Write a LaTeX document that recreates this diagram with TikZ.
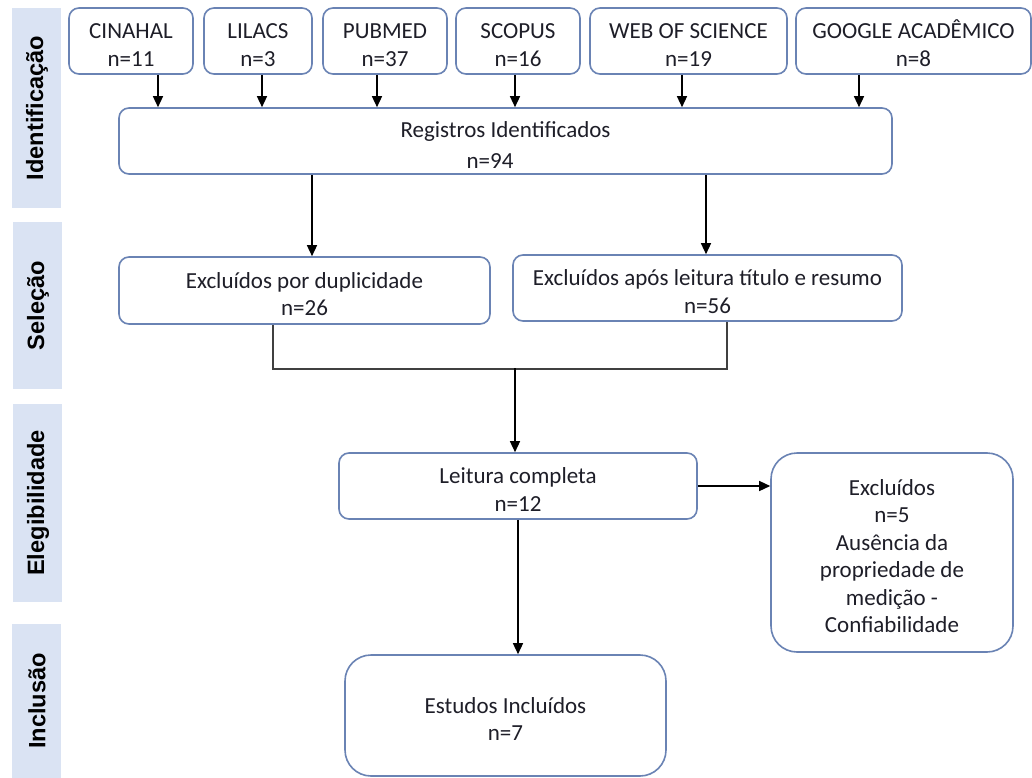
\documentclass[tikz,border=0pt]{standalone}
\usepackage{fontspec}
\setmainfont{Carlito}
\newfontfamily\bandfont{Liberation Sans}
\usetikzlibrary{arrows.meta,calc}
\definecolor{bandblue}{HTML}{DAE3F3}
\definecolor{boxline}{HTML}{6A83B4}
\definecolor{txt}{HTML}{1E1E28}
\definecolor{brk}{HTML}{404040}
\newcommand{\ts}{\rule{0pt}{23pt}}
\tikzset{
  box/.style={draw=boxline, line width=1.6pt, rounded corners=10pt, fill=white,
    align=center, text=txt, font=\fontsize{23}{27.5}\selectfont, inner sep=0pt},
  bigbox/.style={box, rounded corners=26pt},
  band/.style={fill=bandblue, draw=none},
  bandlabel/.style={rotate=90, font=\bandfont\bfseries\fontsize{23.6}{26}\selectfont, text=black},
  arr/.style={draw=black, line width=1.4pt, -{Triangle[width=10pt,length=11pt]}},
  brline/.style={draw=brk, line width=1.4pt}
}
\begin{document}
\begin{tikzpicture}[x=1pt,y=-1pt]
\useasboundingbox (0,0) rectangle (1032,778);
\fill[white] (0,0) rectangle (1032,778);

% side bands
\fill[band] (12,8) rectangle (61,208);
\fill[band] (13,222) rectangle (62,389);
\fill[band] (13,404) rectangle (62,602);
\fill[band] (12,624) rectangle (61,778);
\node[bandlabel] (l1) at (37,108) {Identificação};
\node[bandlabel] (l2) at (38,305.5) {Seleção};
\node[bandlabel] (l3) at (38,503) {Elegibilidade};
\node[bandlabel] (l4) at (37,701) {Inclusão};

% top sources
\node[box, minimum width=124pt, minimum height=66pt] (cin) at (131,41) {\ts CINAHAL\\n=11};
\node[box, minimum width=108pt, minimum height=66pt] (lil) at (258,41) {\ts LILACS\\n=3};
\node[box, minimum width=124pt, minimum height=66pt] (pub) at (385,41) {\ts PUBMED\\n=37};
\node[box, minimum width=124pt, minimum height=66pt] (sco) at (518,41) {\ts SCOPUS\\n=16};
\node[box, minimum width=197pt, minimum height=66pt] (wos) at (688.5,41) {\ts WEB OF SCIENCE\\n=19};
\node[box, minimum width=235pt, minimum height=66pt] (goo) at (913.5,41) {\ts GOOGLE ACADÊMICO\\n=8};

% registros
\node[box, minimum width=773pt, minimum height=66pt, font=\fontsize{23}{31}\selectfont] (reg) at (505.5,141) {\ts Registros Identificados\\n=94\hspace*{31pt}};

\draw[arr] ([xshift=27pt]cin.south) -- ([xshift=27pt]cin.south |- reg.north);
\draw[arr] ([xshift=4pt]lil.south) -- ([xshift=4pt]lil.south |- reg.north);
\draw[arr] ([xshift=-8pt]pub.south) -- ([xshift=-8pt]pub.south |- reg.north);
\draw[arr] ([xshift=-3pt]sco.south) -- ([xshift=-3pt]sco.south |- reg.north);
\draw[arr] ([xshift=-6.5pt]wos.south) -- ([xshift=-6.5pt]wos.south |- reg.north);
\draw[arr] ([xshift=-54.5pt]goo.south) -- ([xshift=-54.5pt]goo.south |- reg.north);

% selection
\node[box, minimum width=371pt, minimum height=67pt] (dup) at (304.5,290.5) {\ts Excluídos por duplicidade\\n=26};
\node[box, minimum width=389pt, minimum height=66pt] (apos) at (707.5,288) {\ts Excluídos após leitura título e resumo\\n=56};

\draw[arr] ([xshift=7.5pt]dup.north |- reg.south) -- ([xshift=7.5pt]dup.north);
\draw[arr] ([xshift=-1.5pt]apos.north |- reg.south) -- ([xshift=-1.5pt]apos.north);

% eligibility
\node[box, minimum width=358pt, minimum height=66pt] (lei) at (518,486) {\ts Leitura completa\\n=12};
\node[bigbox, minimum width=242pt, minimum height=199pt] (exc) at (892,552.5) {\ts Excluídos\\n=5\\Ausência da\\propriedade de\\medição -\\Confiabilidade};

% bracket
\coordinate (jl) at ($(dup.south)+(-31.5,44)$);
\coordinate (j) at (515,368);
\draw[brline] ([xshift=-31.5pt]dup.south) -- (jl) -- (jl -| 727,0) -- ([xshift=19.5pt]apos.south);
\draw[arr] (j) -- (j |- lei.north);

\draw[arr] (lei.east) -- (lei.east -| exc.west);

% inclusion
\node[bigbox, minimum width=321pt, minimum height=121pt] (est) at (505.5,715.5) {\ts Estudos Incluídos\\n=7};
\draw[arr] (lei.south) -- (lei.south |- est.north);
\end{tikzpicture}
\end{document}
